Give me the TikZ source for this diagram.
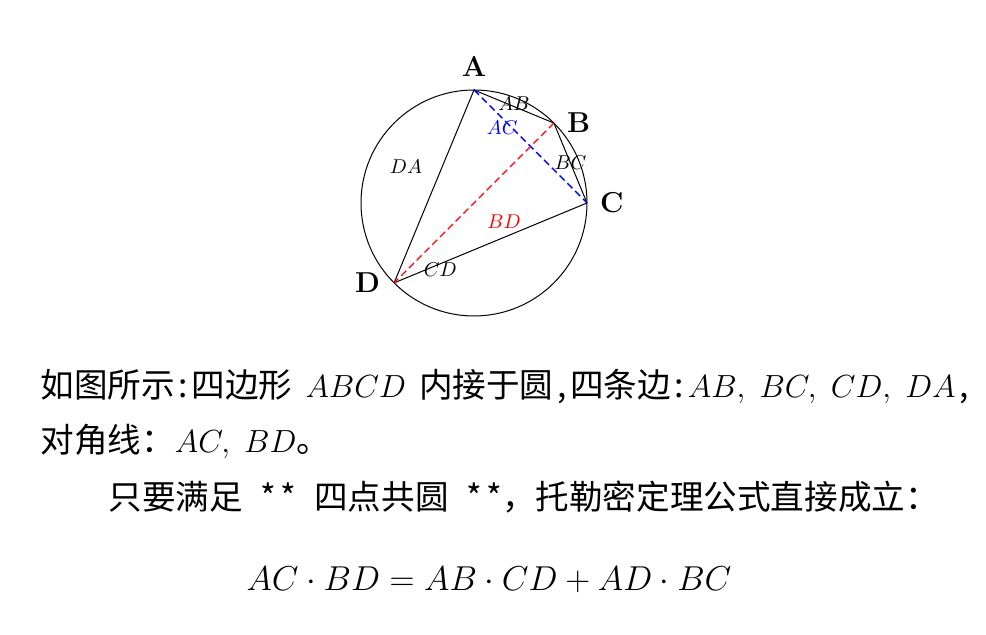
\RequirePackage{fix-cm}
\documentclass[tikz,border=0pt]{standalone}
\usepackage{fontspec}
\newfontfamily\cjk[Scale=1.05]{Noto Sans CJK SC}
\newcommand\halfw[1]{\makebox[0.5em]{#1}}
\usetikzlibrary{positioning}

\begin{document}
\begin{tikzpicture}[x=0.5pt,y=0.5pt,line width=0.5pt,
                    vertex/.style={font=\Large\bfseries},
                    side/.style={font=\normalsize,inner sep=1pt},
                    diag/.style={dash pattern=on 3.5pt off 2pt,line width=0.7pt},
                    textline/.style={anchor=base west,inner sep=0pt}]
  \useasboundingbox (0,0) rectangle (986,635);

  \coordinate (O) at (474,432);
  \path (O) ++(90:113)  coordinate (A)
        (O) ++(45:113)  coordinate (B)
        (O) ++(0:113)   coordinate (C)
        (O) ++(225:113) coordinate (D);

  \draw (O) circle [radius=113];

  \node[vertex] (lA) [above=3pt of A] {A};
  \node[vertex] (lB) [right=3pt of B] {B};
  \node[vertex] (lC) [right=3pt of C] {C};
  \node[vertex] (lD) [left=3.5pt of D] {D};

  \path (A) edge node[side,yshift=1.5pt]           {$AB$} (B)
        (B) edge node[side]                        {$BC$} (C)
        (C) edge node[side,pos=0.76,yshift=-3pt]   {$CD$} (D)
        (D) edge node[side,pos=0.6,xshift=-18pt]   {$DA$} (A);
  \path (A) edge[diag,blue] node[side,text=blue,pos=0.25,yshift=-4.5pt] {$AC$} (C)
        (B) edge[diag,red]  node[side,text=red,xshift=15pt,yshift=-9.5pt] {$BD$} (D);

  \node[textline,font=\fontsize{16}{19}\selectfont\cjk] (line1) at (40,237)
    {如图所示\halfw{:}四边形\hspace{6.5pt}$ABCD$\hspace{6.5pt}内接于圆\halfw{,}四条边\halfw{:}$AB,\;BC,\;CD,\;DA$\halfw{,}};
  \node[textline,font=\fontsize{16}{19}\selectfont\cjk] (line2) at (40,182)
    {对角线：$AC,\;BD$。};
  \node[textline,font=\fontsize{16}{19}\selectfont\cjk] (line3) at (108,125)
    {只要满足\hspace{9pt}*\hspace{2pt}*\hspace{9pt}四点共圆\hspace{9pt}*\hspace{2pt}*，托勒密定理公式直接成立：};
  \node[anchor=base,inner sep=0pt,font=\fontsize{17.28}{20}\selectfont] (law) at (489,44)
    {$AC\cdot BD=AB\cdot CD+AD\cdot BC$};
\end{tikzpicture}
\end{document}
